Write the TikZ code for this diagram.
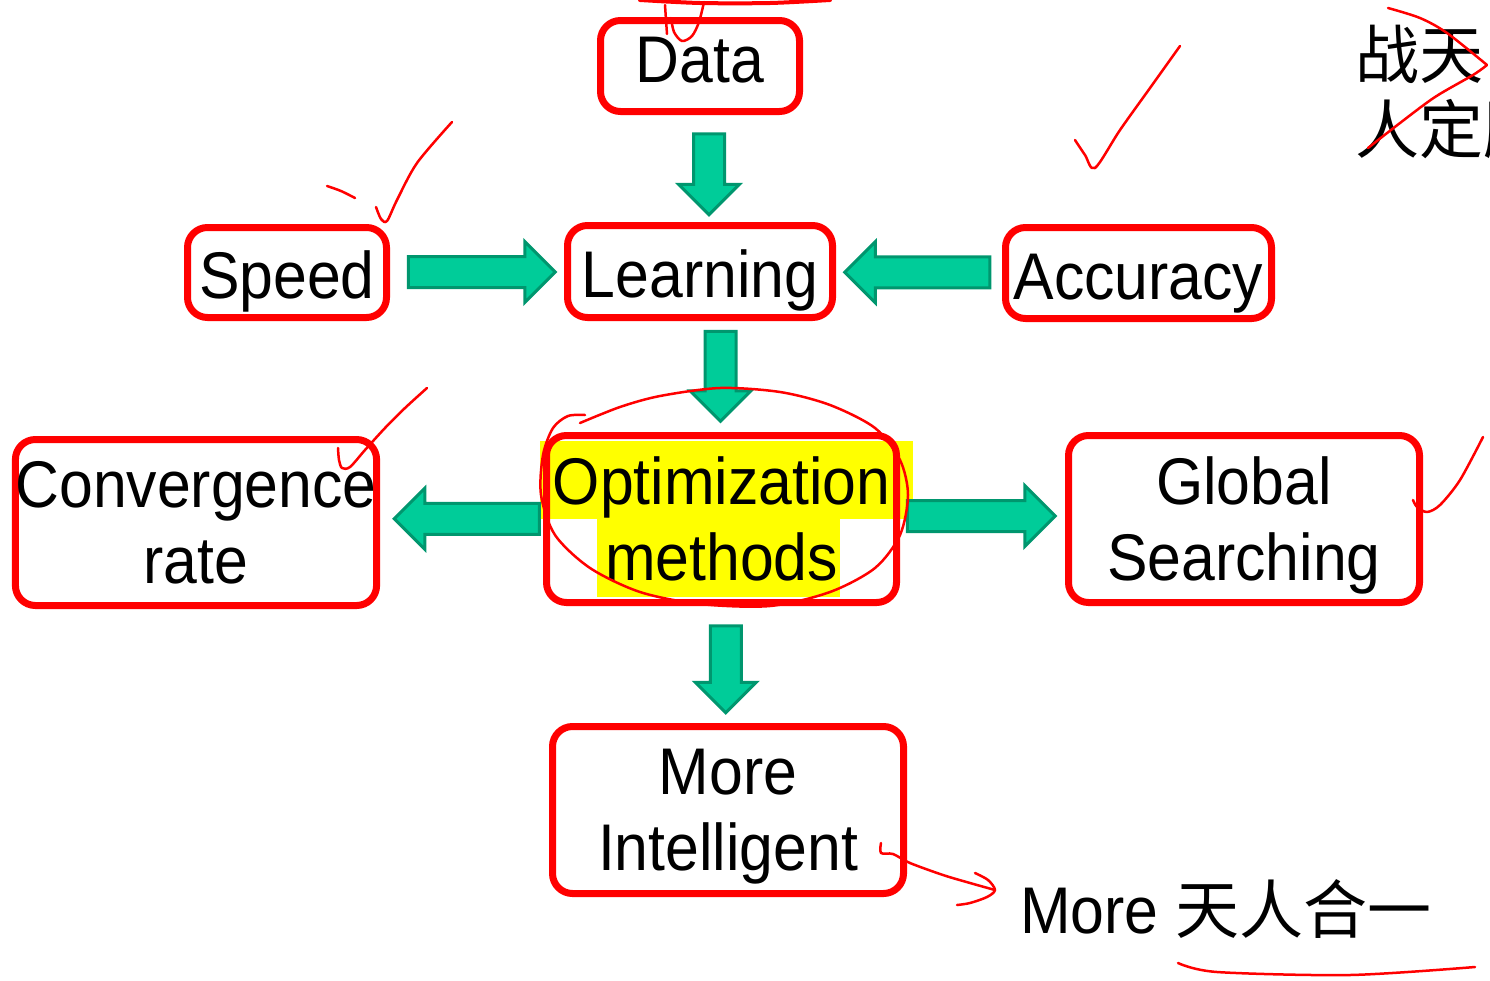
\documentclass[tikz,border=0pt]{standalone}
\usepackage{fontspec}
\setmainfont{Liberation Sans}[FakeStretch=0.92]
\newfontfamily\cjk{Noto Sans CJK SC}
\usetikzlibrary{positioning, calc, shapes.arrows}
\definecolor{boxred}{RGB}{255,0,0}
\definecolor{arrowfill}{RGB}{0,204,153}
\definecolor{arrowedge}{RGB}{0,150,110}
\definecolor{marker}{RGB}{255,255,0}
\newcommand{\nodepth}[1]{\raisebox{0pt}[\height][0pt]{#1}}

\begin{document}
\begin{tikzpicture}[x=1pt, y=-1pt,
        box/.style={rectangle, draw=boxred, line width=7pt, rounded corners=20pt, inner sep=0pt, align=center, font=\fontsize{66}{76}\selectfont},
        onebox/.style={box, text height=66pt, text depth=14pt},
        garrow/.style={single arrow, draw=arrowedge, fill=arrowfill, line width=3pt, inner sep=14pt, single arrow head extend=15pt, single arrow tip angle=90},
        ink/.style={draw=red, line width=2.5pt, line cap=round, line join=round}
    ]
        \useasboundingbox (0,0) rectangle (1490,980);

        % --- HIGHLIGHT BEHIND OPTIMIZATION ---
        \fill[marker] (540,441) rectangle (913,519);
        \fill[marker] (597,519) rectangle (840,597);

        % --- BOXES ---
        \node[box, text height=47pt, text depth=14pt, minimum width=199pt, minimum height=91pt] (data) at (700,66) {Data};
        \node[onebox, minimum width=199pt, minimum height=90pt] (speed) at (287,272.5) {Speed};
        \node[onebox, minimum width=265pt, minimum height=92pt] (learning) at (700,271.5) {Learning};
        \node[onebox, minimum width=266pt, minimum height=91pt] (accuracy) at (1138.5,273) {Accuracy};
        \node[box, minimum width=351pt, minimum height=166pt] (convergence) at (196,522.5) {Convergence\\rate};
        \node[box, minimum width=350pt, minimum height=167pt] (optim) at (721.5,519) {Optimization\\methods};
        \node[box, minimum width=351pt, minimum height=167pt] (global) at (1244,519) {Global\\\nodepth{Searching}};
        \node[box, minimum width=351pt, minimum height=167pt] (intel) at (728,810) {More\\\nodepth{Intelligent}};

        % --- BLOCK ARROWS ---
        \node[garrow, minimum height=81pt, rotate=-90] (dataarrow) at ($(data.south)!0.5!(learning.north)+(9,-2)$) {};
        \node[garrow, minimum height=147pt] (speedarrow) at ($(speed.east)!0.5!(learning.west)+(-3,0)$) {};
        \node[garrow, minimum height=145pt, rotate=180] (accarrow) at ($(learning.east)!0.5!(accuracy.west)+(6,0)$) {};
        \node[garrow, minimum height=90pt, rotate=-90] (learnarrow) at ($(learning.south -| optim)!0.5!(optim.north)+(-1,-8)$) {};
        \node[garrow, minimum height=145pt, rotate=180] (convarrow) at ($(convergence.east)!0.5!(optim.west)+(13,-2)$) {};
        \node[garrow, minimum height=148pt] (globarrow) at ($(optim.east)!0.5!(global.west)+(-9,-3)$) {};
        \node[garrow, minimum height=87pt, rotate=-90] (intelarrow) at ($(optim.south)!0.5!(intel.north)+(1,-3)$) {};

        % --- TEXTS ---
        \node[font=\cjk\fontsize{64}{75}\selectfont, anchor=west, align=left, inner sep=0pt] (slogan) at (1355,92) {战天\\人定胜};
        \node[font=\fontsize{66}{76}\selectfont, anchor=base west, inner sep=0pt] (motto) at (1020,933) {More {\cjk\fontsize{64}{75}\selectfont 天人合一}};

        % --- HAND MARKS ---
        \draw[ink, line width=4pt] plot[smooth] coordinates {(640,0) (700,3) (770,3) (830,0)};
        \draw[ink] plot[smooth] coordinates {(665,5) (666,20) (667,34)};
        \draw[ink] plot[smooth] coordinates {(671,18) (674,32) (682,41) (692,36) (699,22) (704,2)};
        \draw[ink] plot[smooth] coordinates {(327,186) (341,191) (355,198)};
        \draw[ink] plot[smooth] coordinates {(376,207) (381,219) (387,221) (397,200) (417,163) (452,122)};
        \draw[ink] plot[smooth] coordinates {(1075,140) (1085,155) (1095,168) (1120,130) (1150,88) (1180,46)};
        \draw[ink] plot[smooth] coordinates {(1388,8) (1420,18) (1447,33) (1487,65)};
        \draw[ink] plot[smooth] coordinates {(1487,65) (1473,75) (1435,97) (1400,123) (1368,148)};
        \draw[ink] plot[smooth] coordinates {(338,448) (339,460) (342,468) (350,467) (365,450) (385,428) (405,408) (427,388)};
        \draw[ink] plot[smooth] coordinates {(1413,500) (1417,507) (1427,512) (1440,505) (1460,480) (1483,437)};
        \draw[ink] plot[smooth] coordinates {(580,423) (620,407) (660,396) (720,388) (780,392) (830,405) (875,428) (900,460) (908,495) (900,535) (875,568) (830,592) (770,606) (700,604) (640,592) (590,568) (555,535) (541,495) (543,455) (553,428) (568,416) (585,415)};
        \draw[ink] plot[smooth] coordinates {(881,843) (881,853) (893,854) (910,863) (943,875) (970,883) (995,890)};
        \draw[ink] plot[smooth] coordinates {(975,873) (988,880) (995,890) (987,897) (970,903) (957,905)};
        \draw[ink] plot[smooth] coordinates {(1178,963) (1217,972) (1350,975) (1475,967)};
\end{tikzpicture}
\end{document}
